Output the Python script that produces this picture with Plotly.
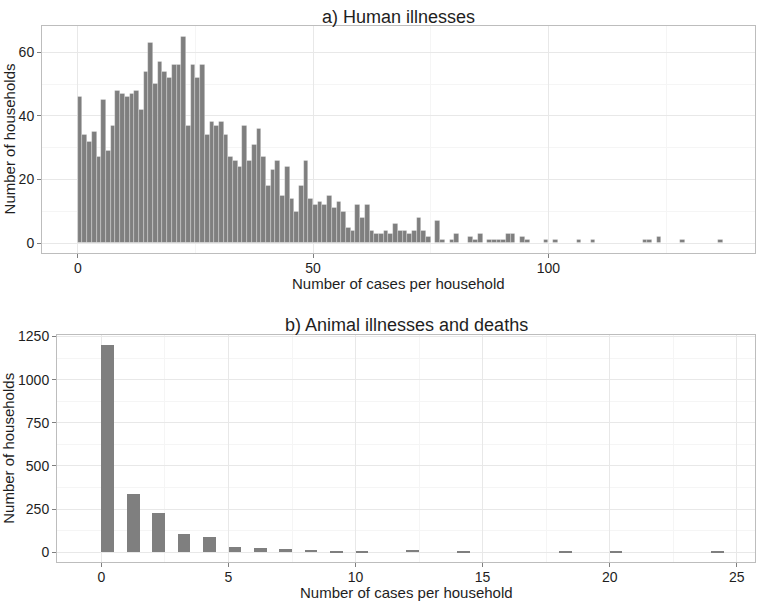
import plotly.graph_objects as go

# a) human illnesses: number of households per case count (bins of width 1)
human_cases = list(range(137))
human_households = [
    46, 34, 32, 35, 27, 45, 29, 37, 48, 47, 46, 47, 48, 42, 54, 63, 50, 57, 54, 52,
    56, 56, 65, 37, 56, 52, 56, 34, 38, 37, 38, 34, 27, 26, 24, 37, 26, 31, 36, 27,
    18, 23, 26, 15, 24, 14, 10, 18, 26, 14, 12, 13, 12, 15, 11, 13, 10, 5, 4, 12,
    8, 12, 4, 3, 3, 4, 3, 6, 4, 4, 3, 4, 8, 4, 2, 0, 7, 1, 0, 1,
    3, 0, 0, 2, 1, 3, 0, 1, 1, 1, 1, 3, 3, 0, 2, 1, 0, 0, 0, 1,
    0, 1, 0, 0, 0, 0, 1, 0, 0, 1, 0, 0, 0, 0, 0, 0, 0, 0, 0, 0,
    1, 1, 0, 2, 0, 0, 0, 0, 1, 0, 0, 0, 0, 0, 0, 0, 1,
]

# b) animal illnesses and deaths (bins of width 0.5 starting at each integer)
animal_cases = list(range(25))
animal_households = [
    1200, 336, 224, 106, 85, 30, 25, 18, 12, 7, 7, 0, 13, 0, 1,
    0, 0, 0, 4, 0, 1, 0, 0, 0, 3,
]

W, H = 757, 601
bar_color = "#7f7f7f"
text_color = "#1e1e1e"
font = "Liberation Sans, Arial, sans-serif"


# positions below are given in screen pixels from the top-left corner
def px_x(x):
    return x / W


def px_y(y):
    return 1 - y / H


fig = go.Figure()

fig.add_trace(go.Bar(
    x=human_cases, y=human_households, width=1, offset=0,
    marker=dict(color=bar_color, line=dict(color="rgba(255,255,255,0.45)", width=0.6)),
    xaxis="x", yaxis="y", showlegend=False, hoverinfo="x+y",
))

fig.add_trace(go.Bar(
    x=animal_cases, y=animal_households, width=0.5, offset=0,
    marker=dict(color=bar_color, line=dict(width=0)),
    xaxis="x2", yaxis="y2", showlegend=False, hoverinfo="x+y",
))

axis_common = dict(
    showline=True, mirror=True, linecolor="#bdbdbd", linewidth=1,
    ticks="outside", ticklen=4, tickcolor="#7f7f7f", tickwidth=1,
    showgrid=True, gridcolor="#e8e8e8", gridwidth=1,
    zeroline=False,
    tickfont=dict(family=font, size=14, color=text_color),
)

fig.update_layout(
    width=W, height=H,
    margin=dict(l=0, r=0, t=0, b=0),
    paper_bgcolor="white", plot_bgcolor="white",
    bargap=0,
    xaxis=dict(
        axis_common, domain=[px_x(42), px_x(755)], anchor="y",
        range=[-7.6, 143.9], tick0=0, dtick=50, ticklabelstandoff=-2,
        minor=dict(dtick=25, showgrid=True, gridcolor="#f5f5f5", ticks=""),
    ),
    yaxis=dict(
        axis_common, domain=[px_y(249), px_y(19)], anchor="x",
        range=[-3.1, 68.3], tick0=0, dtick=20,
        minor=dict(dtick=10, showgrid=True, gridcolor="#f5f5f5", ticks=""),
    ),
    xaxis2=dict(
        axis_common, domain=[px_x(57), px_x(755)], anchor="y2",
        range=[-1.75, 25.72], tick0=0, dtick=5, ticklabelstandoff=-2,
        minor=dict(dtick=2.5, showgrid=True, gridcolor="#f5f5f5", ticks=""),
    ),
    yaxis2=dict(
        axis_common, domain=[px_y(562), px_y(332)], anchor="x2",
        range=[-59, 1258], tick0=0, dtick=250,
        minor=dict(dtick=125, showgrid=True, gridcolor="#f5f5f5", ticks=""),
    ),
)

labels = [
    ("a) Human illnesses", 398.5, 10, 0, 18),
    ("Number of cases per household", 398.5, 280, 0, 15),
    ("Number of households", 9, 134, -90, 15),
    ("b) Animal illnesses and deaths", 406, 322, 0, 18),
    ("Number of cases per household", 406, 592, 0, 15),
    ("Number of households", 9, 447, -90, 15),
]
for text, x, y, angle, size in labels:
    fig.add_annotation(
        text=text, x=px_x(x), y=px_y(y), xref="paper", yref="paper",
        xanchor="center", yanchor="middle", showarrow=False, textangle=angle,
        font=dict(family=font, size=size, color=text_color),
    )

# no modebar, and drop the browser's default 8px body margin
fig.write_html(
    "out.html",
    config={"displayModeBar": False},
    post_script="document.body.style.margin = '0';",
)
